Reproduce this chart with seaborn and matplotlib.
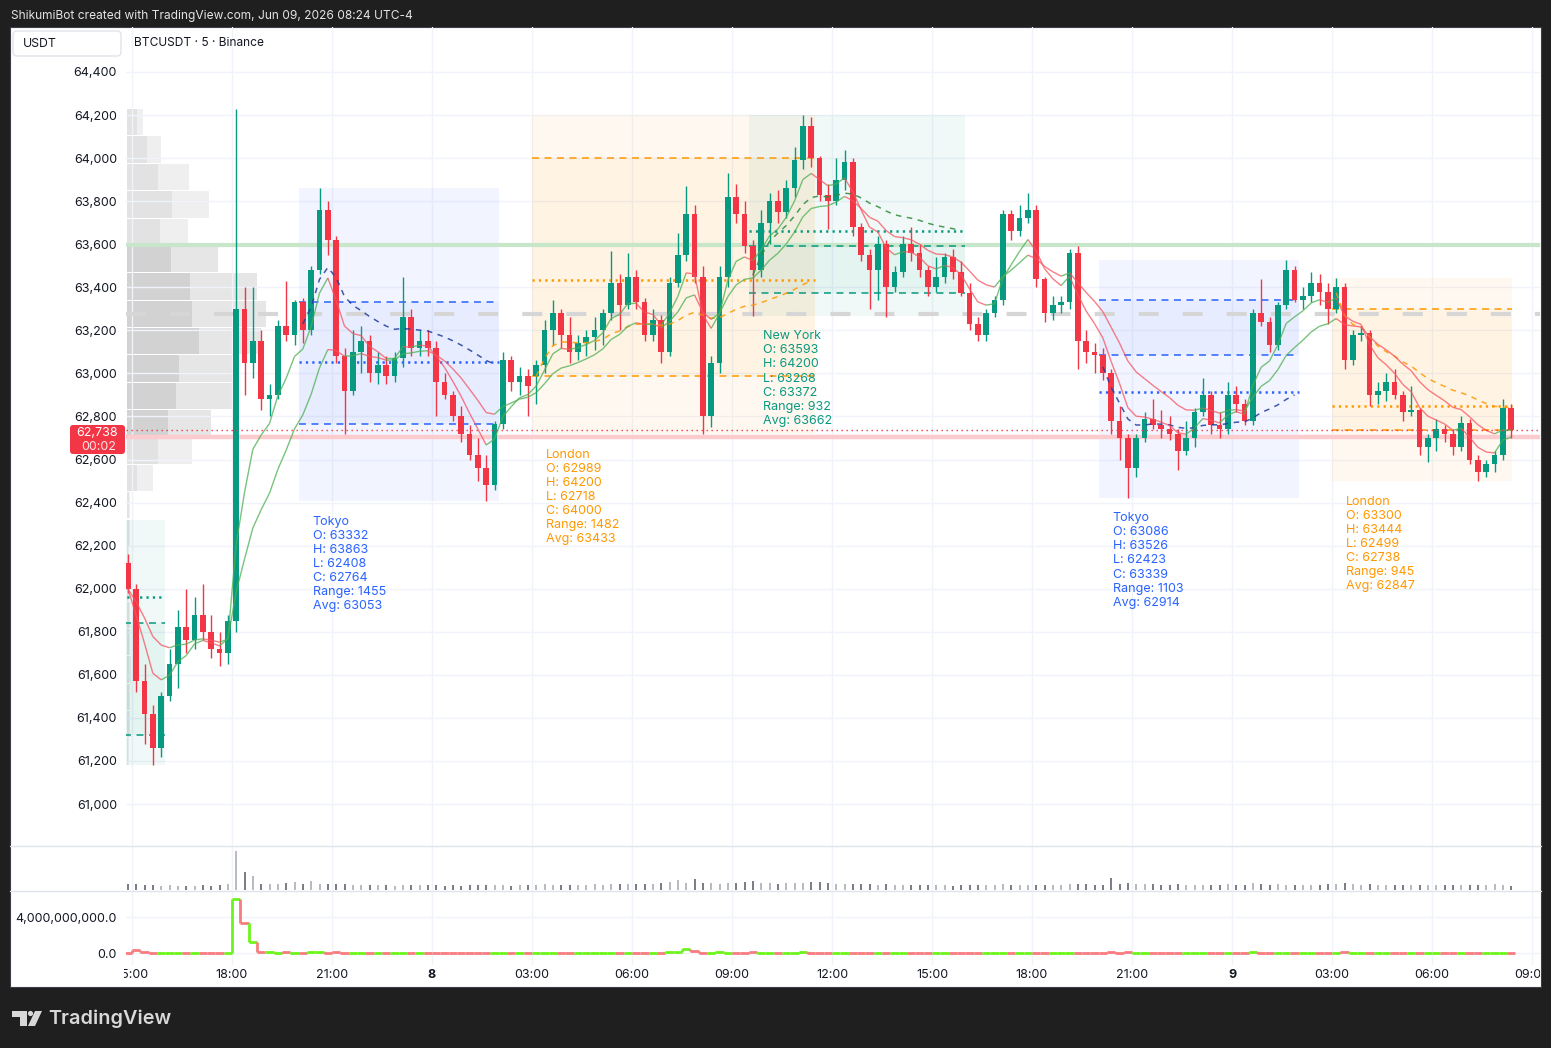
import numpy as np
import pandas as pd
import seaborn as sns
import matplotlib
matplotlib.use("Agg")
import matplotlib.pyplot as plt
from matplotlib.collections import LineCollection
from matplotlib.lines import Line2D
from matplotlib.patches import Rectangle, FancyBboxPatch, Polygon, Circle
from matplotlib.transforms import Affine2D, Bbox, TransformedBbox

# BTCUSDT, 15 min bars, 7 Jun 14:45 -> 9 Jun 08:15 (UTC-4)
bar_start = "2026-06-07 14:45"
opens = [62120, 62000, 61570, 61420, 61260, 61500, 61650, 61820, 61760, 61880, 61800, 61720, 61700,
         61850, 63300, 63050, 63150, 62880, 62900, 63220, 63180, 63332, 63200, 63480, 63760,
         63620, 63080, 62920, 63100, 63150, 63000, 63040, 62990, 63070, 63260, 63120, 63150,
         63120, 62960, 62900, 62800, 62720, 62620, 62560, 62480, 62764, 63060, 62960, 62990,
         62989, 63040, 63200, 63280, 63180, 63100, 63140, 63170, 63200, 63280, 63420, 63320, 63450,
         63330, 63180, 63250, 63100, 63420, 63550, 63740, 63450, 62800, 63050, 63450, 63820, 63740,
         63593, 63480, 63700, 63800, 63750, 63860, 63990, 64150, 64000, 63830, 63800, 63900, 63980,
         63680, 63550, 63480, 63600, 63400, 63470, 63600, 63560, 63480, 63400, 63450, 63540, 63470,
         63372, 63230, 63180, 63280, 63340, 63740, 63660, 63720, 63760, 63440, 63280, 63320, 63330,
         63560, 63150, 63100,
         63086, 63000, 62780, 62700, 62560, 62700, 62790, 62760, 62740, 62720, 62640, 62700, 62820,
         62900, 62760, 62740,
         62900, 62860, 62780, 63280, 63240, 63130, 63320, 63480, 63339, 63360, 63420, 63380,
         63300, 63400, 63060, 63180,
         63190, 62900, 62920, 62960, 62900, 62820, 62830, 62660, 62700, 62740, 62720, 62660, 62770,
         62600, 62540, 62580, 62620, 62840]
highs = [62160, 62020, 61650, 61460, 61520, 61720, 61900, 62000, 61960, 62020, 61880, 61800, 61880,
         64230, 63400, 63400, 63200, 62950, 63250, 63430, 63340, 63350, 63500, 63863, 63800,
         63640, 63120, 63200, 63220, 63180, 63100, 63080, 63100, 63450, 63300, 63200, 63200,
         63150, 63000, 62920, 62850, 62760, 62700, 62620, 62780, 63100, 63080, 63030, 63020,
         63060, 63250, 63340, 63300, 63260, 63180, 63200, 63260, 63300, 63570, 63460, 63560, 63480,
         63350, 63300, 63270, 63450, 63650, 63870, 63780, 63500, 63080, 63500, 63930, 63880, 63800,
         63620, 63760, 63840, 63850, 63900, 64050, 64200, 64190, 64010, 63880, 64000, 64040, 64000,
         63700, 63580, 63640, 63620, 63500, 63640, 63680, 63600, 63500, 63540, 63560, 63580, 63520,
         63420, 63260, 63300, 63360, 63760, 63760, 63780, 63840, 63780, 63450, 63360, 63360, 63580,
         63590, 63200, 63140,
         63120, 63020, 62850, 62720, 62720, 62820, 62880, 62830, 62800, 62740, 62780, 62840, 62980,
         62920, 62820, 62960,
         62940, 62880, 63300, 63440, 63260, 63330, 63526, 63500, 63400, 63470, 63460, 63420,
         63444, 63420, 63200, 63220,
         63200, 62960, 63000, 63020, 62920, 62940, 62840, 62720, 62790, 62760, 62740, 62800, 62790,
         62620, 62600, 62640, 62880, 62860]
lows = [61980, 61520, 61280, 61180, 61220, 61480, 61540, 61700, 61720, 61760, 61680, 61640, 61650,
        61800, 62900, 62980, 62830, 62800, 62880, 63150, 63130, 63140, 63180, 63460, 63550,
        63050, 62720, 62900, 63000, 62960, 62950, 62950, 62960, 63030, 63080, 63080, 63080,
        62800, 62880, 62780, 62680, 62600, 62500, 62408, 62460, 62740, 62920, 62900, 62800,
        62860, 63000, 63130, 63120, 63050, 63060, 63080, 63110, 63130, 63250, 63200, 63300, 63300,
        63150, 63150, 63050, 63080, 63400, 63520, 63420, 62718, 62750, 63000, 63400, 63700, 63560,
        63268, 63450, 63600, 63700, 63720, 63820, 63950, 63960, 63800, 63670, 63780, 63850, 63640,
        63520, 63300, 63340, 63260, 63380, 63450, 63520, 63450, 63360, 63380, 63420, 63440, 63360,
        63200, 63150, 63150, 63260, 63320, 63620, 63640, 63700, 63400, 63240, 63250, 63280, 63300,
        63020, 63050, 63000,
        62970, 62720, 62600, 62423, 62520, 62680, 62740, 62700, 62690, 62550, 62620, 62660, 62800,
        62720, 62700, 62720,
        62820, 62760, 62760, 63220, 63100, 63110, 63300, 63330, 63300, 63330, 63320, 63230,
        63280, 63020, 63040, 63150,
        62850, 62860, 62870, 62880, 62780, 62800, 62620, 62590, 62640, 62680, 62620, 62640, 62580,
        62499, 62520, 62540, 62600, 62700]
closes = [62000, 61570, 61420, 61260, 61500, 61650, 61820, 61760, 61880, 61800, 61720, 61700, 61850,
          63300, 63050, 63150, 62880, 62900, 63220, 63180, 63332, 63200, 63480, 63760, 63620,
          63080, 62920, 63100, 63150, 63000, 63040, 62990, 63070, 63260, 63120, 63150, 63120,
          62960, 62900, 62800, 62720, 62620, 62560, 62480, 62764, 63060, 62960, 62990, 62940,
          63040, 63200, 63280, 63180, 63100, 63140, 63170, 63200, 63280, 63420, 63320, 63450, 63330,
          63180, 63250, 63100, 63420, 63550, 63740, 63450, 62800, 63050, 63450, 63820, 63740, 63593,
          63480, 63700, 63800, 63750, 63860, 63990, 64150, 64000, 63830, 63800, 63900, 63980, 63680,
          63550, 63480, 63600, 63400, 63470, 63600, 63560, 63480, 63400, 63450, 63540, 63470, 63372,
          63230, 63180, 63280, 63340, 63740, 63660, 63720, 63760, 63440, 63280, 63320, 63330, 63560,
          63150, 63100, 63086,
          63000, 62780, 62700, 62560, 62700, 62790, 62760, 62740, 62720, 62640, 62700, 62820, 62900,
          62760, 62740, 62900,
          62860, 62780, 63280, 63240, 63130, 63320, 63480, 63339, 63360, 63420, 63380, 63300,
          63400, 63060, 63180, 63190,
          62900, 62920, 62960, 62900, 62820, 62830, 62660, 62700, 62740, 62720, 62660, 62770, 62600,
          62540, 62580, 62620, 62840, 62738]
volume = [14, 16, 12, 13, 11, 12, 10, 11, 10, 12, 11, 12, 14,
          97, 45, 34,
          16, 15, 14, 18, 20, 14, 22, 16, 15,
          16, 15, 13, 12, 12, 13, 12, 11, 12, 13, 12, 12,
          12, 11, 12, 11, 12, 13, 12, 13, 12, 11, 12, 12,
          13, 14, 13, 12, 13, 12, 13, 14, 13, 14, 15, 14, 15, 16, 15, 17, 20, 24, 18, 28, 17, 18, 16, 17, 18, 19,
          22, 18, 17, 16, 18, 17, 18, 20, 19, 17, 16, 15, 14, 15, 14, 13, 14, 13, 12, 13, 12, 12, 13, 12, 11, 12,
          12, 13, 12, 13, 14, 13, 12, 13, 12, 12, 13, 12, 14, 15, 14, 13,
          13, 30, 16, 18, 16, 15, 14, 13, 13, 14, 13, 12, 13, 12, 13, 14,
          13, 12, 17, 14, 13, 14, 13, 13, 12, 13, 13, 14, 15, 18, 14, 13,
          14, 13, 13, 12, 13, 12, 13, 12, 12, 12, 13, 12, 12, 13, 12, 14, 13, 10]
# lower pane, in billions
flow_bn = [0.05, 0.3, 0.12, 0.05, 0.04, 0.03, 0.04, 0.02, 0.03, 0.02, 0.03, 0.02, 0.04,
           6.0, 3.3, 1.2,
           0.12, 0.08, 0.05, 0.06, 0.05, 0.04, 0.12, 0.06, 0.05,
           0.06, 0.05, 0.04, 0.03, 0.03, 0.04, 0.02, 0.03, 0.04, 0.03, 0.02, 0.03,
           0.03, 0.02, 0.03, 0.02, 0.03, 0.04, 0.03, 0.02, 0.03, 0.02, 0.03, 0.02,
           0.03, 0.04, 0.03, 0.02, 0.03, 0.02, 0.04, 0.03, 0.02, 0.03, 0.04, 0.03, 0.02, 0.03, 0.04,
           0.05, 0.06, 0.06, 0.4, 0.2, 0.05, 0.04, 0.1, 0.04, 0.05, 0.04,
           0.06, 0.05, 0.04, 0.05, 0.04, 0.05, 0.06, 0.05, 0.04, 0.04, 0.03, 0.03, 0.04, 0.03, 0.02,
           0.03, 0.02, 0.03, 0.02, 0.03, 0.02, 0.02, 0.03, 0.02, 0.02, 0.03,
           0.02, 0.03, 0.02, 0.03, 0.05, 0.03, 0.02, 0.03, 0.04, 0.03, 0.02, 0.02, 0.03, 0.04, 0.03, 0.02,
           0.03, 0.08, 0.05, 0.06, 0.04, 0.03, 0.03, 0.02, 0.03, 0.03, 0.02, 0.02, 0.03, 0.02, 0.03, 0.03,
           0.03, 0.02, 0.06, 0.05, 0.03, 0.04, 0.03, 0.03, 0.02, 0.03, 0.02, 0.03, 0.04, 0.06, 0.03, 0.02,
           0.04, 0.03, 0.02, 0.03, 0.02, 0.03, 0.02, 0.02, 0.03, 0.02, 0.03, 0.02, 0.02, 0.03, 0.02,
           0.04, 0.03, 0.02]

# sessions as printed on the chart
sess_names = ["New York", "Tokyo", "London", "New York", "Tokyo", "London"]
sess_from = ["2026-06-07 09:30", "2026-06-07 20:00", "2026-06-08 03:00",
             "2026-06-08 09:30", "2026-06-08 20:00", "2026-06-09 03:00"]
sess_to = ["2026-06-07 16:00", "2026-06-08 02:00", "2026-06-08 11:30",
           "2026-06-08 16:00", "2026-06-09 02:00", "2026-06-09 08:24"]
sess_open = [61840, 63332, 62989, 63593, 63086, 63300]
sess_high = [62320, 63863, 64200, 64200, 63526, 63444]
sess_low = [61180, 62408, 62718, 63268, 62423, 62499]
sess_close = [61320, 62764, 64000, 63372, 63339, 62738]
sess_avg = [61960, 63053, 63433, 63662, 62914, 62847]
sess_color = {"Tokyo": "#2962ff", "London": "#ff9800", "New York": "#089981"}
sess_curve = {"Tokyo": "#1f3c9c", "London": "#ff9800", "New York": "#2e8b3a"}

# visible range volume profile, rows from the top (64230) down to 61180
vp_top, vp_bottom = 64230, 61180
vp_total = [16, 34, 62, 82, 61, 91, 130, 139, 134, 111, 110, 84, 65, 26, 3, 3, 2, 2, 3, 3, 4, 3, 3, 2]
vp_inner = [10, 20, 31, 45, 33, 44, 63, 65, 72, 52, 49, 41, 31, 10, 2, 2, 1, 1, 2, 2, 2, 2, 2, 1]
vp_value_area = [5, 6, 7, 8, 9, 10, 11]

green_level = 63595
pink_level = 62705
last_price = 62738

y_ticks = list(range(61000, 64401, 200))
x_tick_pos = [15, 18, 21, 24, 27, 30, 33, 36, 39, 42, 45, 48, 51, 54, 57]
x_tick_lab = ["15:00", "18:00", "21:00", "8", "03:00", "06:00", "09:00", "12:00",
              "15:00", "18:00", "21:00", "9", "03:00", "06:00", "09:00"]

UP, DN = "#089981", "#f23645"
INK = "#131722"
GRID = "#f0f3fa"

sns.set_theme(style="white")
plt.rcParams["font.family"] = ["Inter", "DejaVu Sans"]
plt.rcParams["lines.scale_dashes"] = False

W, H = 1551, 1048
fig = plt.figure(figsize=(W / 100, H / 100), dpi=100, facecolor="#1f1f1f")
PX = Affine2D().scale(1 / W, -1 / H).translate(0, 1) + fig.transFigure


def axrect(x0, y0, x1, y1):
    return [x0 / W, 1 - y1 / H, (x1 - x0) / W, (y1 - y0) / H]


def hrs(ts):
    return (pd.to_datetime(ts) - pd.Timestamp("2026-06-07")) / pd.Timedelta(hours=1)


fig.add_artist(Rectangle((10, 27), 1531, 960, transform=PX, facecolor="white",
                         edgecolor="#3c3f47", lw=0.8, zorder=-5))

t = pd.date_range(bar_start, periods=len(opens), freq="15min")
df = pd.DataFrame({"open": opens, "high": highs, "low": lows, "close": closes,
                   "vol": volume, "flow": np.array(flow_bn) * 1e9})
df["x"] = np.asarray(hrs(t)) + 0.125
df["up"] = df["close"] >= df["open"]

XL = (14.82, 57.24)

# ---------------- main price pane ----------------
ax = fig.add_axes(axrect(126, 27, 1540, 846))
ax.patch.set_visible(False)
ax.set_zorder(2)
for s in ax.spines.values():
    s.set_visible(False)

# volume profile on a twin x axis, drawn under the candles
axp = ax.twiny()
axp.set_zorder(1)
axp.set_axis_off()
axp.set_xlim(-1, 1413)
edges = np.linspace(vp_top, vp_bottom, len(vp_total) + 1)
centers = (edges[:-1] + edges[1:]) / 2
rowh = abs(edges[1] - edges[0])
tot_c = ["#e6e6e6" if i in vp_value_area else "#efefef" for i in range(len(vp_total))]
inn_c = ["#d2d2d2" if i in vp_value_area else "#e2e2e2" for i in range(len(vp_total))]
axp.barh(centers, vp_total, height=rowh - 5, color=tot_c, lw=0)
axp.barh(centers, vp_inner, height=rowh - 5, color=inn_c, lw=0)
poc = centers[int(np.argmax(vp_total))]

ax.grid(True, color=GRID, lw=1)
ax.set_axisbelow(True)

# session boxes
for i, name in enumerate(sess_names):
    c = sess_color[name]
    x0, x1 = hrs(sess_from[i]), hrs(sess_to[i])
    o, hi, lo, cl, av = sess_open[i], sess_high[i], sess_low[i], sess_close[i], sess_avg[i]
    ax.fill_between([x0, x1], lo, hi, color=c, alpha=0.06, lw=0, zorder=1)
    ax.fill_between([x0, x1], min(o, cl), max(o, cl), color=c, alpha=0.05, lw=0, zorder=1)
    ax.hlines([o, cl], x0, x1, colors=c, linestyles=(0, (5, 4)), lw=1.1, zorder=3)
    ax.hlines(av, x0, x1, colors=c, linestyles=(0, (1.6, 3)), lw=1.8, zorder=3)
    seg = df[(df["x"] >= x0) & (df["x"] < x1)]
    if x0 > XL[0]:
        run = ((seg["high"] + seg["low"] + seg["close"]) / 3).expanding().mean()
        sns.lineplot(x=seg["x"].to_numpy(), y=run.to_numpy(), ax=ax, color=sess_curve[name],
                     lw=1.1, alpha=0.85, linestyle=(0, (4, 4)), zorder=6)
        ax.text(x0 + 0.42, lo - 68,
                f"{name}\nO: {o}\nH: {hi}\nL: {lo}\nC: {cl}\nRange: {hi - lo}\nAvg: {av}",
                color=c, fontsize=9, va="top", ha="left", linespacing=1.23, zorder=8)

ax.axhline(poc, color="#d6d6d6", lw=3, dashes=(14.4, 17.3), zorder=2)
ax.axhline(green_level, color="#c8e6c9", lw=3, zorder=2)
ax.axhline(pink_level, color="#fbcbce", lw=3.2, zorder=2)

# candles
col = np.where(df["up"], UP, DN)
ax.vlines(df["x"], df["low"], df["high"], colors=col, lw=1, zorder=4)
body = (df["close"] - df["open"]).abs().clip(lower=7)
ax.bar(df["x"], body, bottom=np.minimum(df["open"], df["close"]), width=0.17,
       color=col, lw=0, zorder=5)

# trend-coloured EMAs
for span in (6, 13):
    e = df["close"].ewm(span=span, adjust=False).mean().to_numpy()
    pts = np.column_stack([df["x"].to_numpy(), e])
    segs = np.stack([pts[:-1], pts[1:]], axis=1)
    cc = np.where(np.diff(e) >= 0, "#4caf50", "#f7525f")
    ax.add_collection(LineCollection(segs, colors=cc, linewidths=1, alpha=0.75, zorder=6))

ax.axhline(last_price, color=DN, lw=1, dashes=(1, 2.6), zorder=7)

ax.set_xlim(*XL)
ax.set_ylim(60805, 64609)
ax.set_yticks(y_ticks)
ax.set_yticklabels([f"{v:,}" for v in y_ticks])
ax.set_xticks(x_tick_pos)
ax.tick_params(axis="x", labelbottom=False, length=0)
ax.tick_params(axis="y", length=0, pad=6.5, labelsize=9, labelcolor=INK)
ax.set_xlabel("")
ax.set_ylabel("")

# ---------------- volume pane ----------------
axv = fig.add_axes(axrect(126, 847, 1540, 890))
axv.patch.set_visible(False)
for s in axv.spines.values():
    s.set_visible(False)
axv.bar(df["x"], df["vol"], width=0.06, color=np.where(df["up"], "#b8bbc2", "#7c7f88"), lw=0)
axv.set_xlim(*XL)
axv.set_ylim(0, 107)
axv.set_xticks(x_tick_pos)
axv.set_yticks([])
axv.grid(True, axis="x", color=GRID, lw=1)
axv.set_axisbelow(True)
axv.tick_params(labelbottom=False, length=0)

# ---------------- lower pane ----------------
axf = fig.add_axes(axrect(126, 892, 1540, 965))
axf.patch.set_visible(False)
for s in axf.spines.values():
    s.set_visible(False)
fx = df["x"].to_numpy()
fv = df["flow"].to_numpy()
fsegs, fcols = [], []
for k in range(len(fx)):
    c = "#6cf51a" if df["up"].iloc[k] else "#f77c80"
    fsegs.append([(fx[k] - 0.125, fv[k]), (fx[k] + 0.125, fv[k])])
    fcols.append(c)
    if k > 0:
        fsegs.append([(fx[k] - 0.125, fv[k - 1]), (fx[k] - 0.125, fv[k])])
        fcols.append(c)
axf.add_collection(LineCollection(fsegs, colors=fcols, linewidths=2))
axf.set_xlim(*XL)
axf.set_ylim(-1.33e9, 6.78e9)
axf.set_xticks(x_tick_pos)
axf.set_yticks([0, 4e9])
axf.set_yticklabels(["0.0", "4,000,000,000.0"])
axf.grid(True, color=GRID, lw=1)
axf.set_axisbelow(True)
axf.tick_params(axis="x", labelbottom=False, length=0)
axf.tick_params(axis="y", length=0, pad=6.5, labelsize=9, labelcolor=INK)

# pane separators
for yy in (846, 891):
    fig.add_artist(Line2D([10, 1541], [yy, yy], transform=PX, color="#e0e3eb", lw=1))

# time axis labels, clipped at the pane edge like the original
clip = TransformedBbox(Bbox.from_extents(124 / W, 0, 1540 / W, 1), fig.transFigure)
for xp, lab in zip(x_tick_pos, x_tick_lab):
    px = 126 + (xp - XL[0]) / (XL[1] - XL[0]) * 1414
    tt = fig.text(px / W, 1 - 975 / H, lab, ha="center", va="center", fontsize=9, color=INK,
                  fontweight="bold" if lab in ("8", "9") else "normal")
    tt.set_clip_box(clip)
    tt.set_clip_on(True)

# last price tag
fig.add_artist(FancyBboxPatch((70, 425), 55, 29, boxstyle="round,pad=0,rounding_size=3",
                              transform=PX, facecolor=DN, edgecolor="none"))
fig.text(97 / W, 1 - 433 / H, f"{last_price:,}", color="white", fontsize=9, ha="center", va="center")
fig.text(99 / W, 1 - 447 / H, "00:02", color="#fde3e5", fontsize=9, ha="center", va="center")

# header, symbol, currency box
fig.text(11 / W, 1 - 16 / H, "ShikumiBot created with TradingView.com, Jun 09, 2026 08:24 UTC-4",
         color="#e3e3e3", fontsize=8.6, ha="left", va="center")
fig.add_artist(FancyBboxPatch((13, 31), 108, 25, boxstyle="round,pad=0,rounding_size=4",
                              transform=PX, facecolor="white", edgecolor="#e0e3eb", lw=1))
fig.text(23 / W, 1 - 44 / H, "USDT", color=INK, fontsize=8.8, ha="left", va="center")
fig.text(134 / W, 1 - 43 / H, "BTCUSDT · 5 · Binance", color=INK, fontsize=8.6, ha="left", va="center")

# TradingView mark
logo = "#d8d8d8"
fig.add_artist(Polygon([(12, 1011), (27, 1011), (27, 1026), (20, 1026), (20, 1017), (12, 1017)],
                       closed=True, transform=PX, facecolor=logo, edgecolor="none"))
fig.add_artist(Circle((30.5, 1013.5), 2.6, transform=PX, facecolor=logo, edgecolor="none"))
fig.add_artist(Polygon([(35, 1011), (42, 1011), (35, 1026), (28, 1026)], closed=True,
                       transform=PX, facecolor=logo, edgecolor="none"))
fig.text(48 / W, 1 - 1019 / H, "TradingView", color=logo, fontsize=14.3, fontweight="semibold",
         ha="left", va="center")

plt.savefig("out.png", dpi=100, facecolor=fig.get_facecolor())
